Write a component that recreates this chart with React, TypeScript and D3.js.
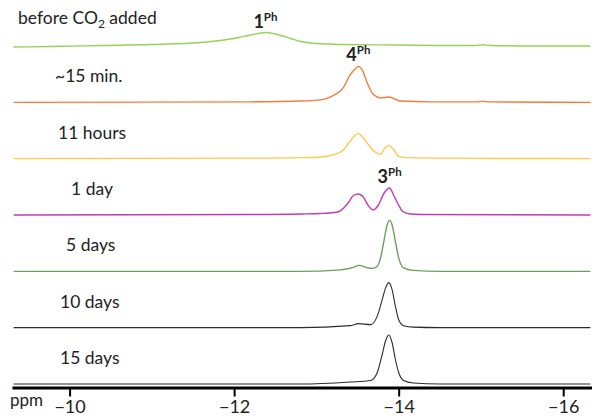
import { useEffect, useRef } from 'react';
import * as d3 from 'd3';

const W = 592;
const H = 417;

const sampleNames = ['before CO2 added', '~15 min.', '11 hours', '1 day', '5 days', '10 days', '15 days'];
const ppmTicks = [-10, -12, -14, -16];

// spectra as [ppm, intensity (a.u.)]
const before = [
  [-9.32, -2], [-9.77, -1], [-10.38, 1], [-10.98, 3], [-11.59, 7], [-11.99, 15], [-12.2, 22],
  [-12.38, 27], [-12.5, 24], [-12.69, 15], [-12.81, 9], [-12.99, 5], [-13.29, 3], [-14.02, 2],
  [-14.6, 1], [-14.93, 1], [-15.02, 2.5], [-15.12, 1], [-15.72, 0], [-16.33, 0],
];
const min15 = [
  [-9.32, 0], [-12.2, 1], [-12.81, 2.6], [-13.05, 5], [-13.21, 14], [-13.33, 30], [-13.41, 55],
  [-13.48, 68], [-13.51, 72], [-13.56, 64], [-13.62, 38], [-13.69, 16], [-13.78, 9], [-13.88, 10.6],
  [-13.96, 6], [-14.02, 2.6], [-14.39, 1], [-14.95, 1], [-15.02, 2], [-15.1, 1], [-16.33, 0],
];
const hours11 = [
  [-9.32, 0], [-12.2, 1], [-12.81, 2], [-13.05, 3.4], [-13.21, 8], [-13.33, 18], [-13.41, 35],
  [-13.51, 50], [-13.6, 35], [-13.68, 18], [-13.78, 9.4], [-13.84, 23], [-13.88, 26], [-13.94, 18],
  [-14.0, 4.6], [-14.11, 2], [-14.63, 1], [-16.33, 0],
];
const day1 = [
  [-9.32, 0], [-12.2, 1], [-12.81, 2], [-13.05, 3], [-13.26, 6], [-13.38, 23], [-13.45, 39],
  [-13.51, 42], [-13.57, 36], [-13.63, 19], [-13.69, 10], [-13.75, 19], [-13.82, 43], [-13.89, 54],
  [-13.94, 39], [-13.99, 23], [-14.05, 7], [-14.14, 2], [-14.26, 1], [-16.33, 0],
];
const days5 = [
  [-9.32, 0], [-12.81, 0], [-13.29, 3], [-13.45, 8], [-13.52, 12], [-13.62, 7], [-13.68, 6],
  [-13.74, 10], [-13.78, 27], [-13.82, 60], [-13.86, 93], [-13.89, 102], [-13.92, 93], [-13.96, 60],
  [-14.0, 27], [-14.06, 7], [-14.18, 2], [-14.5, 0], [-16.33, 0],
];
const days10 = [
  [-9.32, 0], [-12.81, 0], [-13.41, 4], [-13.51, 8], [-13.66, 6], [-13.74, 23], [-13.8, 56],
  [-13.84, 79], [-13.88, 90], [-13.92, 76], [-13.96, 43], [-14.0, 16], [-14.06, 4], [-14.18, 1],
  [-14.5, 0], [-16.33, 0],
];
const days15 = [
  [-9.32, 0], [-12.81, 0], [-13.41, 4], [-13.66, 7], [-13.74, 23], [-13.8, 59], [-13.84, 86],
  [-13.88, 98], [-13.92, 83], [-13.96, 49], [-14.0, 23], [-14.06, 7], [-14.18, 2], [-14.5, 0],
  [-16.33, 0],
];

const spectra = [before, min15, hours11, day1, days5, days10, days15];
const colors = ['#97d155', '#f47c3c', '#ffc94a', '#c03cb4', '#6f9e62', '#2b2b2b', '#2b2b2b'];

// compound labels: [number, peak ppm, spectrum index, peak intensity]
const compounds = [
  ['1', -12.38, 0, 27],
  ['4', -13.51, 1, 72],
  ['3', -13.89, 3, 54],
];

const font = 'Lato, "Open Sans", sans-serif';

export default function App() {
  const axisRef = useRef<SVGGElement>(null);

  const x = d3.scaleLinear().domain([-9.3, -16.35]).range([12, 592]);
  const stack = d3.scalePoint<number>().domain(d3.range(spectra.length)).range([46, 384]);
  const amp = d3.scaleLinear().domain([0, 100]).range([0, 50]);

  useEffect(() => {
    if (!axisRef.current) return;
    const g = d3.select(axisRef.current);
    g.selectAll('*').remove();
    g.call(
      d3.axisBottom(x)
        .tickValues(ppmTicks)
        .tickSize(9)
        .tickSizeOuter(0)
        .tickPadding(4)
        .tickFormat(d => '\u2212' + Math.abs(+d))
    );
    g.select('.domain').attr('stroke', '#000').attr('stroke-width', 3);
    g.selectAll('.tick line').attr('stroke', '#000').attr('stroke-width', 2);
    g.selectAll('.tick text')
      .attr('fill', '#222')
      .style('font-family', font)
      .style('font-size', '18px');
  }, []);

  const labelX = [18, 55, 58, 71, 66, 60, 60];

  return (
    <svg width={W} height={H} style={{ position: 'fixed', left: 0, top: 0, background: '#fff' }}>
      {spectra.map((s, i) => {
        const base = stack(i)!;
        const line = d3.line<number[]>()
          .x(d => x(d[0]))
          .y(d => base - amp(d[1]))
          .curve(d3.curveMonotoneX);
        return (
          <path key={i} d={line(s) || ''} fill="none" stroke={colors[i]}
            strokeWidth={i >= 5 ? 1.1 : 1.4} />
        );
      })}

      {/* sample labels */}
      <g style={{ fontFamily: font, fontSize: 17.5 }} fill="#222">
        <text x={labelX[0]} y={24}>
          before CO<tspan fontSize={12} dy={4}>2</tspan><tspan dy={-4}> added</tspan>
        </text>
        {sampleNames.slice(1).map((n, k) => (
          <text key={n} x={labelX[k + 1]} y={stack(k + 1)! - 20}>{n}</text>
        ))}
      </g>

      {/* compound labels */}
      {compounds.map(([num, ppm, idx, peak]) => {
        const cx = x(ppm as number);
        const top = stack(idx as number)! - amp(peak as number);
        return (
          <text key={num as string} x={cx - 12} y={top - 5} fill="#222"
            style={{ fontFamily: font, fontWeight: 700, fontSize: 18 }}>
            {num}
            <tspan fontSize={11.5} dy={-7}>Ph</tspan>
          </text>
        );
      })}

      <g ref={axisRef} transform="translate(0, 387.5)" />
      <text x={10} y={406} fill="#222" style={{ fontFamily: font, fontSize: 17 }}>ppm</text>
    </svg>
  );
}
